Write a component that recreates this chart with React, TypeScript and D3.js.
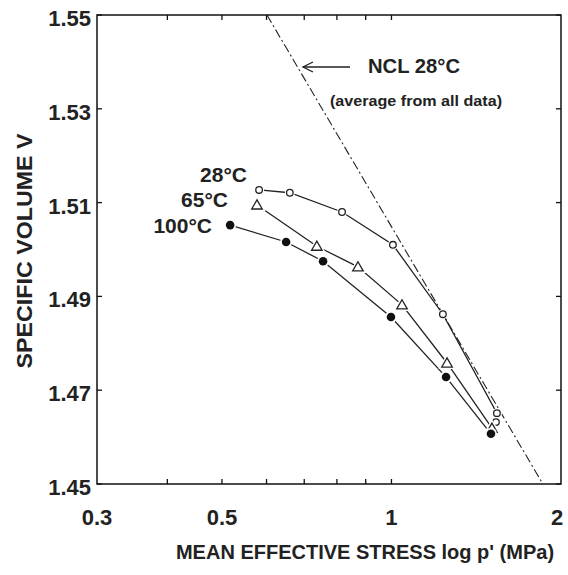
import React from "react";
import * as d3 from "d3";

const xTickLabels = [0.3, 0.5, 1, 2];
const xMinorTicks = [0.4, 0.5, 0.6, 0.7, 0.8, 0.9, 1];
const yTicks = [1.45, 1.47, 1.49, 1.51, 1.53, 1.55];

const p28 = [0.582, 0.66, 0.817, 1.006, 1.234, 1.539, 1.533];
const v28 = [1.5127, 1.5121, 1.508, 1.501, 1.4862, 1.4651, 1.4632];
const p65 = [0.577, 0.737, 0.872, 1.044, 1.255, 1.508];
const v65 = [1.5095, 1.5007, 1.4963, 1.4882, 1.4758, 1.4619];
const p100 = [0.517, 0.65, 0.756, 0.998, 1.25, 1.502];
const v100 = [1.5052, 1.5016, 1.4975, 1.4856, 1.4728, 1.4607];
const pNcl = [0.601, 1.857];
const vNcl = [1.55, 1.45];

const W = 568;
const H = 575;
const L = 97, R = 561, T = 15, B = 484;

const FONT = "'Liberation Sans', Arial, Helvetica, sans-serif";

export default function App() {
  const x = d3.scaleLog().domain([0.3, 2]).range([L, R]);
  const y = d3.scaleLinear().domain([1.45, 1.55]).range([B, T]);
  const line = d3
    .line<[number, number]>()
    .x((d) => x(d[0]))
    .y((d) => y(d[1]));
  const zip = (a: number[], b: number[]) => a.map((v, i) => [v, b[i]] as [number, number]);
  const s28 = zip(p28, v28);
  const s65 = zip(p65, v65);
  const s100 = zip(p100, v100);
  const ncl = zip(pNcl, vNcl);
  const tri = d3.symbol().type(d3.symbolTriangle).size(48)();

  return (
    <svg
      width={W}
      height={H}
      style={{ position: "absolute", left: 0, top: 0, background: "#fff" }}
      fontFamily={FONT}
    >
      <rect x={0} y={0} width={W} height={H} fill="#fff" />
      {/* frame */}
      <rect x={L} y={T} width={R - L} height={B - T} fill="none" stroke="#111" strokeWidth={1.5} />
      {/* y ticks */}
      {yTicks.map((t) => (
        <g key={"y" + t}>
          <line x1={L} x2={L + 5} y1={y(t)} y2={y(t)} stroke="#111" strokeWidth={1.3} />
          <line x1={R} x2={R - 5} y1={y(t)} y2={y(t)} stroke="#111" strokeWidth={1.3} />
          <text x={91} y={y(t) + 11} textAnchor="end" fontSize={22} fontWeight="bold" fill="#222">
            {t.toFixed(2)}
          </text>
        </g>
      ))}
      {/* x ticks */}
      {xMinorTicks.map((t) => (
        <g key={"x" + t}>
          <line x1={x(t)} x2={x(t)} y1={B} y2={B - 5} stroke="#111" strokeWidth={1.3} />
          <line x1={x(t)} x2={x(t)} y1={T} y2={T + 5} stroke="#111" strokeWidth={1.3} />
        </g>
      ))}
      {xTickLabels.map((t) => (
        <text key={"xl" + t} x={x(t) - (t === 2 ? 4 : 0)} y={525} textAnchor="middle" fontSize={22} fontWeight="bold" fill="#222">
          {String(t)}
        </text>
      ))}
      {/* axis titles */}
      <text x={365} y={559} textAnchor="middle" fontSize={20} fontWeight="bold" fill="#222">
        MEAN EFFECTIVE STRESS log p' (MPa)
      </text>
      <text
        transform={`translate(32,251) rotate(-90)`}
        textAnchor="middle"
        fontSize={22}
        fontWeight="bold"
        fill="#222"
        textLength={235}
        lengthAdjust="spacingAndGlyphs"
      >
        SPECIFIC VOLUME V
      </text>
      {/* NCL line */}
      <path d={line(ncl) || ""} fill="none" stroke="#222" strokeWidth={1.1} strokeDasharray="9,3,2,3" />
      {/* arrow */}
      <line x1={350} x2={303} y1={67} y2={67} stroke="#222" strokeWidth={1.3} />
      <path d="M313,62 L303,67 L313,72" fill="none" stroke="#222" strokeWidth={1.3} />
      <text x={368} y={73} fontSize={20} fontWeight="bold" fill="#222" textLength={92} lengthAdjust="spacingAndGlyphs">
        NCL 28°C
      </text>
      <text x={330} y={106} fontSize={15} fontWeight="bold" fill="#222" textLength={172} lengthAdjust="spacingAndGlyphs">
        (average from all data)
      </text>
      {/* series lines */}
      {[s28, s65, s100].map((s, i) => (
        <path key={"l" + i} d={line(s) || ""} fill="none" stroke="#222" strokeWidth={1.3} />
      ))}
      {/* markers with white halo */}
      {s28.map((d, i) => (
        <g key={"m28" + i}>
          <circle cx={x(d[0])} cy={y(d[1])} r={5} fill="#fff" />
          <circle cx={x(d[0])} cy={y(d[1])} r={3.3} fill="#fff" stroke="#222" strokeWidth={1.3} />
        </g>
      ))}
      {s65.map((d, i) => (
        <g key={"m65" + i} transform={`translate(${x(d[0])},${y(d[1]) + 1})`}>
          <path d={tri || ""} fill="#fff" stroke="#fff" strokeWidth={4} />
          <path d={tri || ""} fill="#fff" stroke="#222" strokeWidth={1.3} />
        </g>
      ))}
      {s100.map((d, i) => (
        <g key={"m100" + i}>
          <circle cx={x(d[0])} cy={y(d[1])} r={6} fill="#fff" />
          <circle cx={x(d[0])} cy={y(d[1])} r={4.3} fill="#111" />
        </g>
      ))}
      {/* series labels */}
      <text x={247} y={182} textAnchor="end" fontSize={21} fontWeight="bold" fill="#222">28°C</text>
      <text x={228} y={207} textAnchor="end" fontSize={21} fontWeight="bold" fill="#222">65°C</text>
      <text x={212} y={233} textAnchor="end" fontSize={21} fontWeight="bold" fill="#222">100°C</text>
    </svg>
  );
}
